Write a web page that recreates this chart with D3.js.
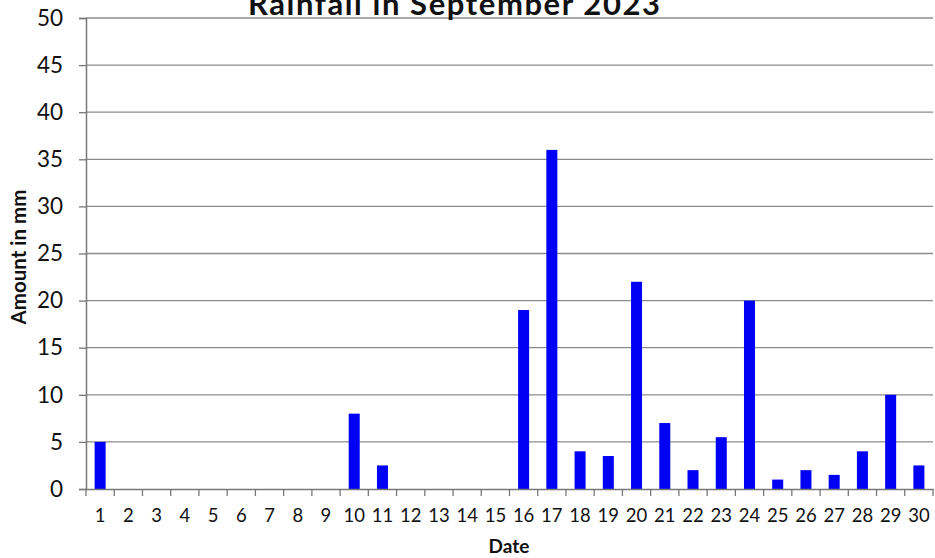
<!DOCTYPE html>
<html>
<head>
<meta charset="utf-8">
<script src="https://cdn.jsdelivr.net/npm/d3@7"></script>
<style>
  body { margin: 0; background: #fff; }
  text { font-family: Lato, "Open Sans", sans-serif; }
</style>
</head>
<body>
<div id="chart"></div>
<script>
// Data
const dates = d3.range(1, 31).map(String);
const rainfall = [5, 0, 0, 0, 0, 0, 0, 0, 0, 8,
                  2.5, 0, 0, 0, 0, 19, 36, 4, 3.5, 22,
                  7, 2, 5.5, 20, 1, 2, 1.5, 4, 10, 2.5];
const yTicks = d3.range(0, 55, 5);

const width = 935;
const height = 558;
const margin = { top: 18, right: 2, bottom: 69, left: 86 };

const svg = d3.select("#chart")
    .append("svg")
    .attr("width", width)
    .attr("height", height);

const x = d3.scaleBand()
    .domain(dates)
    .range([margin.left, width - margin.right])
    .paddingInner(0.61)
    .paddingOuter(0.305);

const y = d3.scaleLinear()
    .domain([0, 50])
    .range([height - margin.bottom, margin.top]);

// Gridlines
svg.append("g")
    .selectAll("line")
    .data(yTicks.slice(1))
    .enter().append("line")
    .attr("x1", margin.left)
    .attr("x2", width - margin.right)
    .attr("y1", d => y(d))
    .attr("y2", d => y(d))
    .attr("stroke", "#8c8c8c")
    .attr("stroke-width", 1.3);

// Bars
svg.selectAll(".bar")
    .data(rainfall)
    .enter().append("rect")
    .attr("class", "bar")
    .attr("x", (d, i) => x(dates[i]))
    .attr("y", d => y(d))
    .attr("width", x.bandwidth())
    .attr("height", d => y(0) - y(d))
    .attr("fill", "#0000f5");

// Axes
const yAxis = svg.append("g")
    .attr("transform", `translate(${margin.left},0)`)
    .call(d3.axisLeft(y).tickValues(yTicks).tickSize(7).tickPadding(16));

const xTickScale = d3.scaleLinear().domain([0, 30]).range([margin.left, width - margin.right]);
const xAxis = svg.append("g")
    .attr("transform", `translate(0,${y(0)})`)
    .call(d3.axisBottom(x).tickSize(0).tickPadding(20));

// tick marks between categories
xAxis.selectAll(".sep")
    .data(d3.range(0, 31))
    .enter().append("line")
    .attr("class", "sep")
    .attr("x1", d => xTickScale(d))
    .attr("x2", d => xTickScale(d))
    .attr("y1", 0)
    .attr("y2", 7)
    .attr("stroke", "#777")
    .attr("stroke-width", 1.3);

[yAxis, xAxis].forEach(g => {
    g.select(".domain").attr("stroke", "#777").attr("stroke-width", 1.5);
    g.selectAll(".tick line").attr("stroke", "#777").attr("stroke-width", 1.3);
    g.selectAll(".tick text")
        .attr("fill", "#111")
        .style("font-family", "Lato, 'Open Sans', sans-serif");
});
yAxis.selectAll(".tick text").style("font-size", "22.5px");
xAxis.selectAll(".tick text").style("font-size", "18.5px");

// Title
svg.append("text")
    .attr("x", 454)
    .attr("y", 15)
    .attr("text-anchor", "middle")
    .attr("textLength", 412)
    .attr("lengthAdjust", "spacing")
    .style("font-size", "31px")
    .style("font-weight", "bold")
    .attr("fill", "#111")
    .text("Rainfall in September 2023");

// Axis titles
svg.append("text")
    .attr("transform", "translate(26,257) rotate(-90)")
    .attr("text-anchor", "middle")
    .style("font-size", "20.5px")
    .style("font-weight", "bold")
    .attr("fill", "#111")
    .text("Amount in mm");

svg.append("text")
    .attr("x", 509)
    .attr("y", 553)
    .attr("text-anchor", "middle")
    .style("font-size", "19px")
    .style("font-weight", "bold")
    .attr("fill", "#111")
    .text("Date");
</script>
</body>
</html>
